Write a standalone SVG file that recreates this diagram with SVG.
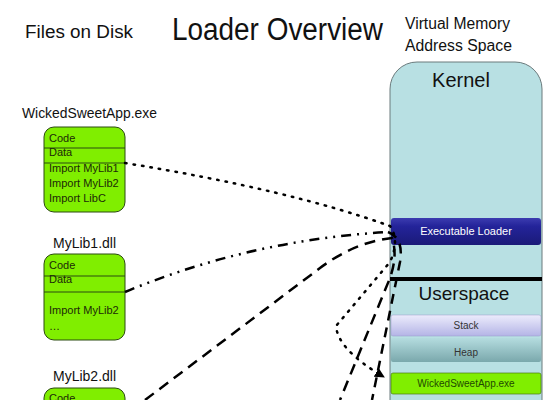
<svg xmlns="http://www.w3.org/2000/svg" width="560" height="400" viewBox="0 0 560 400">
<style>
text{font-family:"Liberation Sans",Arial,sans-serif;}
.file{fill:#80ee00;stroke:#2b4a10;stroke-width:1;}
.sep{stroke:#2b4a10;stroke-width:1;}
.ft{font-size:11px;fill:#1c2a08;}
.lbl{font-size:14px;fill:#111;}
.conn{fill:none;stroke:#000;stroke-width:2.5;}
</style>
<defs>
<linearGradient id="gLoader" x1="0" y1="0" x2="0" y2="1"><stop offset="0" stop-color="#3c3cb0"/><stop offset="0.3" stop-color="#24249a"/><stop offset="1" stop-color="#1a1a78"/></linearGradient>
<linearGradient id="gStack" x1="0" y1="0" x2="0" y2="1"><stop offset="0" stop-color="#ececfc"/><stop offset="1" stop-color="#b4b4e6"/></linearGradient>
<linearGradient id="gHeap" x1="0" y1="0" x2="0" y2="1"><stop offset="0" stop-color="#b4dcdf"/><stop offset="1" stop-color="#7aa8ac"/></linearGradient>
<marker id="arr" viewBox="0 0 10 10" refX="9" refY="5" markerWidth="4" markerHeight="4" orient="auto"><path d="M0,0 L10,5 L0,10 z" fill="#000"/></marker>
</defs>
<rect width="560" height="400" fill="#fff"/>
<g id="titles">
<text x="25" y="38" font-size="18" textLength="108" lengthAdjust="spacingAndGlyphs" fill="#111">Files on Disk</text>
<text x="172" y="40" font-size="31" textLength="211" lengthAdjust="spacingAndGlyphs" fill="#111">Loader Overview</text>
<text x="405" y="29" font-size="16" textLength="105" lengthAdjust="spacingAndGlyphs" fill="#111">Virtual Memory</text>
<text x="405" y="51" font-size="16" textLength="107" lengthAdjust="spacingAndGlyphs" fill="#111">Address Space</text>
</g>
<g id="memory">
<rect x="390" y="62" width="152" height="380" rx="27" fill="#b8e0e3" stroke="#6a7a7c" stroke-width="1"/>
<text x="461" y="87" font-size="20" text-anchor="middle" fill="#111">Kernel</text>
<line x1="390" y1="279" x2="542" y2="279" stroke="#000" stroke-width="4"/>
<text x="464" y="300" font-size="19" text-anchor="middle" fill="#111">Userspace</text>
</g>
<g id="loader">
<rect x="391" y="218" width="150" height="27" rx="3" fill="url(#gLoader)"/>
<text x="466" y="235" font-size="11" text-anchor="middle" fill="#fff">Executable Loader</text>
</g>
<g id="stack">
<rect x="391" y="315" width="150" height="21" rx="2" fill="url(#gStack)" stroke="#9a9ac8" stroke-width="0.5"/>
<text x="466" y="329" font-size="10" text-anchor="middle" fill="#333">Stack</text>
</g>
<g id="heap">
<rect x="391" y="338" width="150" height="24" rx="2" fill="url(#gHeap)"/>
<text x="466" y="356" font-size="10" text-anchor="middle" fill="#333">Heap</text>
</g>
<g id="mem-app">
<rect x="391" y="373" width="150" height="21" rx="2" fill="#80ee00" stroke="#4a7a10" stroke-width="0.7"/>
<text x="466" y="387" font-size="10" text-anchor="middle" fill="#1f4a00">WickedSweetApp.exe</text>
</g>
<g id="file-app">
<text x="22" y="118" class="lbl" textLength="135" lengthAdjust="spacingAndGlyphs">WickedSweetApp.exe</text>
<rect x="44" y="127" width="81" height="85" rx="10" class="file"/>
<line x1="44" y1="148" x2="125" y2="148" class="sep"/>
<line x1="44" y1="163" x2="125" y2="163" class="sep"/>
<text x="49" y="142" class="ft">Code</text>
<text x="49" y="156" class="ft">Data</text>
<text x="49" y="172" class="ft">Import MyLib1</text>
<text x="49" y="187" class="ft">Import MyLib2</text>
<text x="49" y="202" class="ft">Import LibC</text>
</g>
<g id="file-mylib1">
<text x="53" y="248" class="lbl">MyLib1.dll</text>
<rect x="44" y="254" width="81" height="86" rx="10" class="file"/>
<line x1="44" y1="276" x2="125" y2="276" class="sep"/>
<line x1="44" y1="292" x2="125" y2="292" class="sep"/>
<text x="49" y="269" class="ft">Code</text>
<text x="49" y="283" class="ft">Data</text>
<text x="49" y="314" class="ft">Import MyLib2</text>
<text x="49" y="330" class="ft">…</text>
</g>
<g id="file-mylib2">
<text x="53" y="381" class="lbl">MyLib2.dll</text>
<rect x="44" y="388" width="81" height="40" rx="10" class="file"/>
<text x="49" y="402" class="ft">Code</text>
</g>
<g id="connectors">
<path class="conn" stroke-dasharray="1.5 7" stroke-linecap="round" d="M125,163 Q290,190 390,226 Q400,240 390,262 L336,326 Q338,350 384,377" marker-end="url(#arr)"/>
<path class="conn" stroke-dasharray="10 6 2 6 2 6" d="M125,292 Q250,240 388,232"/>
<path class="conn" stroke-dasharray="10 7" d="M388,232 Q404,238 400,262 L372,400"/>
<path class="conn" stroke-dasharray="11 7" d="M145,400 L320,268 Q355,242 392,238 Q398,255 390,278 L340,400"/>
</g>
</svg>
